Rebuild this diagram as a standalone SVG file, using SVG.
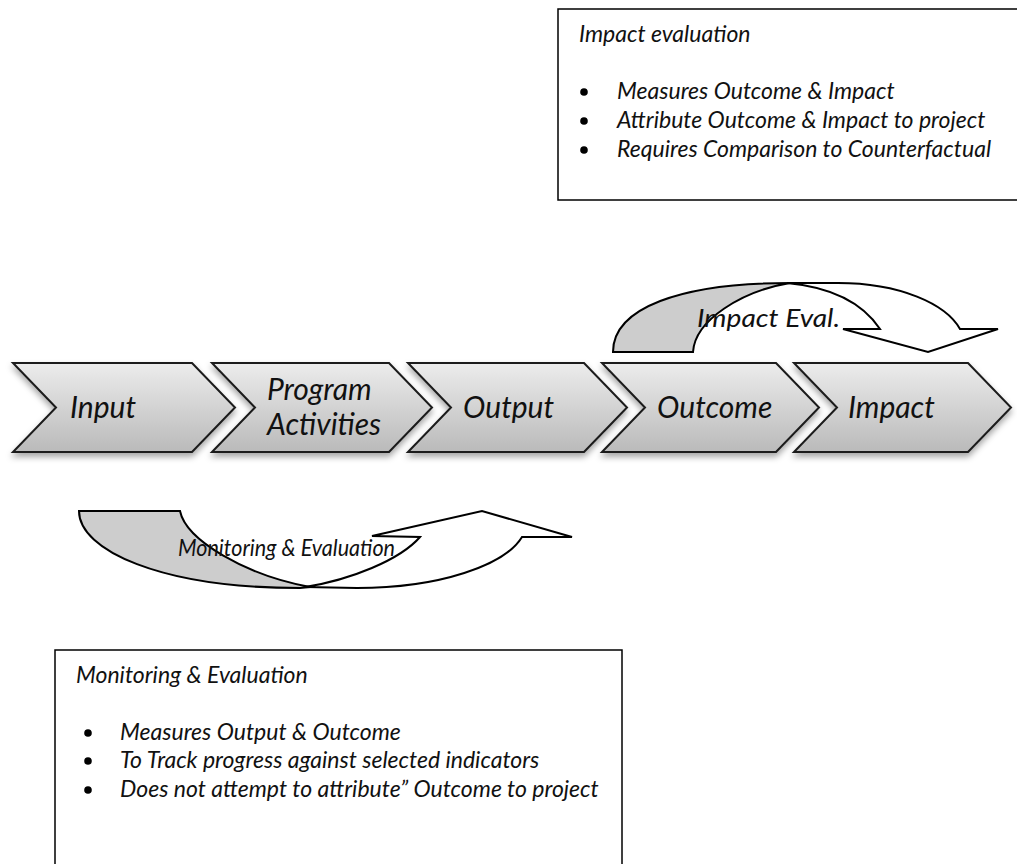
<svg xmlns="http://www.w3.org/2000/svg" width="1017" height="864" viewBox="0 0 1017 864">
  <style>
    .t { font-family: "Lato", "Open Sans", "Liberation Sans", sans-serif; font-style: italic; fill: #111; }
    .box { fill: #fff; stroke: #000; stroke-width: 1.5; }
    .chev { fill: url(#chevGrad); stroke: #1a1a1a; stroke-width: 2; stroke-linejoin: miter; }
    .arrG { fill: #cdcdcd; stroke: #000; stroke-width: 2; stroke-linejoin: miter; }
    .arrW { fill: #fff; stroke: #000; stroke-width: 2; stroke-linejoin: miter; }
    .lbl { font-size: 30px; }
    .body { font-size: 23px; }
  </style>
  <defs>
    <linearGradient id="chevGrad" x1="0" y1="0" x2="0" y2="1">
      <stop offset="0" stop-color="#ececec"/>
      <stop offset="1" stop-color="#bababa"/>
    </linearGradient>
    <filter id="shadow" x="-10%" y="-20%" width="120%" height="150%">
      <feDropShadow dx="0" dy="4" stdDeviation="3" flood-color="#000" flood-opacity="0.35"/>
    </filter>
  </defs>
  <rect width="1017" height="864" fill="#fff"/>

  <g id="impact-eval-box">
    <rect class="box" x="558" y="9" width="480" height="191"/>
    <text class="t body" x="579" y="42">Impact evaluation</text>
    <circle cx="584" cy="92" r="3.8" fill="#000"/>
    <text class="t body" x="617" y="99">Measures Outcome &amp; Impact</text>
    <circle cx="584" cy="121" r="3.8" fill="#000"/>
    <text class="t body" x="617" y="128">Attribute Outcome &amp; Impact to project</text>
    <circle cx="584" cy="150" r="3.8" fill="#000"/>
    <text class="t body" x="617" y="157">Requires Comparison to Counterfactual</text>
  </g>

  <g id="chain" filter="url(#shadow)">
    <g id="node-input">
      <polygon class="chev" points="13,363 192,363 235,407.5 192,452 13,452 56,407.5"/>
    </g>
    <g id="node-program">
      <polygon class="chev" points="212,363 389,363 432,407.5 389,452 212,452 255,407.5"/>
    </g>
    <g id="node-output">
      <polygon class="chev" points="408,363 584,363 627,407.5 584,452 408,452 451,407.5"/>
    </g>
    <g id="node-outcome">
      <polygon class="chev" points="602,363 776,363 819,407.5 776,452 602,452 645,407.5"/>
    </g>
    <g id="node-impact">
      <polygon class="chev" points="794,363 968,363 1011,407.5 968,452 794,452 837,407.5"/>
    </g>
  </g>
  <g id="chain-labels">
    <text class="t lbl" x="70" y="418">Input</text>
    <text class="t lbl" x="267" y="400">Program</text>
    <text class="t lbl" x="267" y="435">Activities</text>
    <text class="t lbl" x="463" y="418">Output</text>
    <text class="t lbl" x="657" y="418">Outcome</text>
    <text class="t lbl" x="848" y="418">Impact</text>
  </g>

  <g id="connectors">
    <g id="arrow-impact-eval">
      <path class="arrG" d="M613,352 C613,308 680,283 790,283 C742,291 695,320 693,352 Z"/>
      <path class="arrW" d="M787,283 L838,283 C900,283 946,304 960,329 L998,329 L928,352 L843,329 L880,329 C862,302 830,287 787,283 Z"/>
      <text class="t" x="697" y="327" font-size="26" textLength="143" lengthAdjust="spacingAndGlyphs">Impact Eval.</text>
    </g>
    <g id="arrow-me">
      <path class="arrG" d="M79,511 L180,511 C186,540 245,575 310,587 L300,588 C160,588 79,550 79,511 Z"/>
      <path class="arrW" d="M305,587 C350,580 400,560 420,537 L372,536 L482,511 L572,537 L522,537 C505,565 440,588 357,588 Z"/>
      <text class="t" x="178" y="556" font-size="24" textLength="217" lengthAdjust="spacingAndGlyphs">Monitoring &amp; Evaluation</text>
    </g>
  </g>

  <g id="me-box">
    <rect class="box" x="55" y="650" width="567" height="230"/>
    <text class="t body" x="76" y="683">Monitoring &amp; Evaluation</text>
    <circle cx="88" cy="733" r="3.8" fill="#000"/>
    <text class="t body" x="120" y="740">Measures Output &amp; Outcome</text>
    <circle cx="88" cy="761" r="3.8" fill="#000"/>
    <text class="t body" x="120" y="768">To Track progress against selected indicators</text>
    <circle cx="88" cy="790" r="3.8" fill="#000"/>
    <text class="t body" x="120" y="797">Does not attempt to attribute” Outcome to project</text>
  </g>
</svg>
